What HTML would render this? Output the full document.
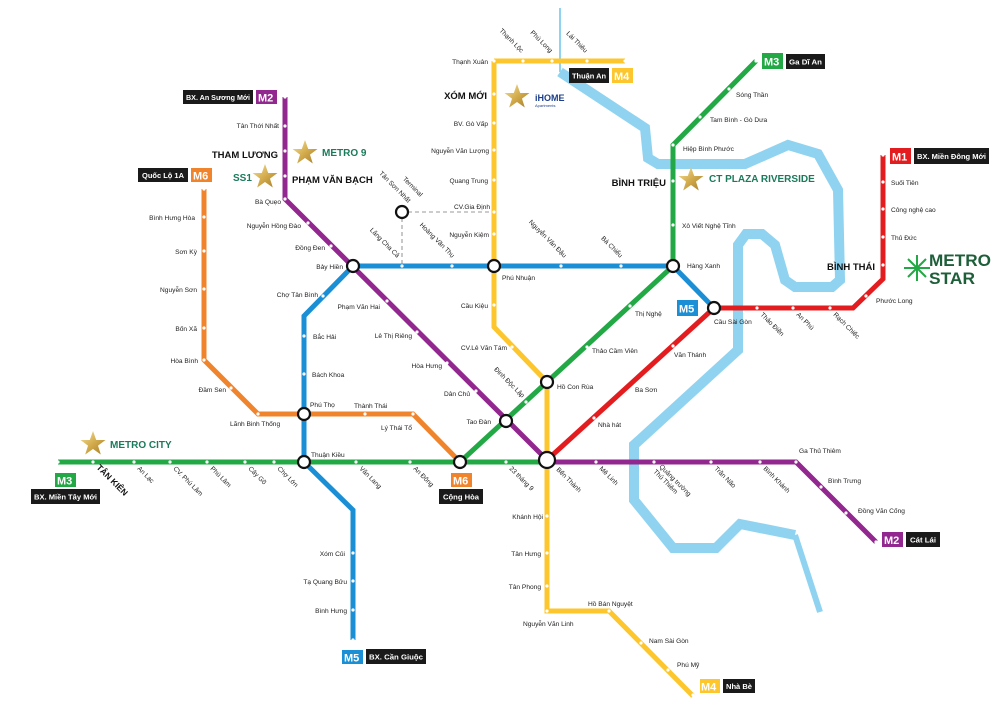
<!DOCTYPE html>
<html><head><meta charset="utf-8"><style>
html,body{margin:0;padding:0;background:#fff;}
svg{display:block;}
text{font-family:"Liberation Sans",sans-serif;}
.s{font-size:6.6px;fill:#222;}
.b{font-size:9.5px;font-weight:bold;fill:#111;}
.g{font-size:10px;font-weight:bold;fill:#1b7a5c;}
.bx{font-size:7.2px;fill:#fff;font-weight:bold;}
.mx{font-size:11px;fill:#fff;font-weight:bold;}
.dot{fill:#fff;}
.ic{fill:#fff;stroke:#111;stroke-width:2.2;}
</style></head><body>
<svg width="1000" height="722" viewBox="0 0 1000 722" xmlns="http://www.w3.org/2000/svg">
<defs>
<polygon id="star" points="0,-13 3.2,-4 12.5,-4 5,1.6 7.8,10.5 0,5 -7.8,10.5 -5,1.6 -12.5,-4 -3.2,-4" />
<linearGradient id="gold" x1="0" y1="0" x2="1" y2="1"><stop offset="0" stop-color="#f5e3a0"/><stop offset="0.5" stop-color="#d4ad4e"/><stop offset="1" stop-color="#a67d26"/></linearGradient>
</defs>
<g fill="none" stroke="#8fd3f1" stroke-linejoin="miter">
<line x1="560" y1="8" x2="560" y2="72" stroke-width="2"/>
<polyline stroke-width="10" points="560,72 645,128 648,158 658,164 745,164 788,145 818,154 838,190 840,280 832,287 795,287 785,280 775,245 762,234 746,234 738,245 738,350 634,445 634,500 673,548 716,548 740,524 795,535"/>
<polyline stroke-width="6" points="795,535 820,612"/>
</g>
<g stroke="#bbb" stroke-width="1.6" stroke-dasharray="4,3" fill="none">
<line x1="408" y1="212" x2="494" y2="212"/><line x1="402" y1="218" x2="402" y2="266"/>
</g>
<g fill="none" stroke-width="5" stroke-linejoin="miter">
<polyline stroke="#f0842c" points="204,189 204,360 258,414 413,414 460,462"/>
<polyline stroke="#fcc62c" points="494,61 625,61"/>
<polyline stroke="#fcc62c" points="494,61 494,327 547,382 547,611 609,611 693,696"/>
<polyline stroke="#1a8fd6" points="353,266 673,266 714,308"/>
<polyline stroke="#1a8fd6" points="353,266 304,316 304,462 353,510 353,640"/>
<polyline stroke="#22a844" points="58,462 547,462"/>
<polyline stroke="#22a844" points="460,462 673,266 673,145 756,61"/>
<polyline stroke="#92278f" points="285,97 285,199 547,460"/>
<polyline stroke="#92278f" points="547,462 796,462 876,542"/>
<polyline stroke="#e31d1f" points="547,460 714,308 853,308 883,279 883,155"/>
</g>
<g class="dot">
<circle cx="204" cy="189" r="1.6"/><circle cx="204" cy="217" r="1.6"/><circle cx="204" cy="251" r="1.6"/><circle cx="204" cy="289" r="1.6"/><circle cx="204" cy="328" r="1.6"/><circle cx="204" cy="360" r="1.6"/><circle cx="231" cy="388" r="1.6"/><circle cx="258" cy="414" r="1.6"/><circle cx="365" cy="414" r="1.6"/><circle cx="413" cy="414" r="1.6"/>
<circle cx="523" cy="61" r="1.6"/><circle cx="552" cy="61" r="1.6"/><circle cx="587" cy="61" r="1.6"/><circle cx="625" cy="61" r="1.6"/>
<circle cx="494" cy="61" r="1.6"/><circle cx="494" cy="94" r="1.6"/><circle cx="494" cy="123" r="1.6"/><circle cx="494" cy="150" r="1.6"/><circle cx="494" cy="180" r="1.6"/><circle cx="494" cy="212" r="1.6"/><circle cx="494" cy="234" r="1.6"/><circle cx="494" cy="305" r="1.6"/><circle cx="512" cy="347" r="1.6"/>
<circle cx="547" cy="516" r="1.6"/><circle cx="547" cy="553" r="1.6"/><circle cx="547" cy="586" r="1.6"/><circle cx="547" cy="611" r="1.6"/><circle cx="609" cy="611" r="1.6"/><circle cx="641" cy="643" r="1.6"/><circle cx="668" cy="670" r="1.6"/><circle cx="693" cy="695" r="1.6"/>
<circle cx="402" cy="266" r="1.6"/><circle cx="452" cy="266" r="1.6"/><circle cx="561" cy="266" r="1.6"/><circle cx="621" cy="266" r="1.6"/><circle cx="323" cy="296" r="1.6"/><circle cx="304" cy="336" r="1.6"/><circle cx="304" cy="374" r="1.6"/><circle cx="353" cy="553" r="1.6"/><circle cx="353" cy="581" r="1.6"/><circle cx="353" cy="610" r="1.6"/><circle cx="353" cy="640" r="1.6"/>
<circle cx="58" cy="462" r="1.6"/><circle cx="93" cy="462" r="1.6"/><circle cx="134" cy="462" r="1.6"/><circle cx="170" cy="462" r="1.6"/><circle cx="207" cy="462" r="1.6"/><circle cx="245" cy="462" r="1.6"/><circle cx="274" cy="462" r="1.6"/><circle cx="356" cy="462" r="1.6"/><circle cx="410" cy="462" r="1.6"/><circle cx="506" cy="462" r="1.6"/>
<circle cx="526" cy="402" r="1.6"/><circle cx="587" cy="347" r="1.6"/><circle cx="630" cy="306" r="1.6"/><circle cx="673" cy="225" r="1.6"/><circle cx="673" cy="181" r="1.6"/><circle cx="673" cy="145" r="1.6"/><circle cx="700" cy="117" r="1.6"/><circle cx="729" cy="89" r="1.6"/><circle cx="756" cy="61" r="1.6"/>
<circle cx="285" cy="97" r="1.6"/><circle cx="285" cy="126" r="1.6"/><circle cx="285" cy="151" r="1.6"/><circle cx="285" cy="176" r="1.6"/><circle cx="285" cy="199" r="1.6"/><circle cx="308" cy="223" r="1.6"/><circle cx="331" cy="246" r="1.6"/><circle cx="387" cy="301" r="1.6"/><circle cx="417" cy="332" r="1.6"/><circle cx="447" cy="363" r="1.6"/><circle cx="476" cy="391" r="1.6"/>
<circle cx="596" cy="462" r="1.6"/><circle cx="654" cy="462" r="1.6"/><circle cx="711" cy="462" r="1.6"/><circle cx="760" cy="462" r="1.6"/><circle cx="796" cy="462" r="1.6"/><circle cx="821" cy="487" r="1.6"/><circle cx="846" cy="513" r="1.6"/><circle cx="876" cy="542" r="1.6"/>
<circle cx="594" cy="418" r="1.6"/><circle cx="632" cy="389" r="1.6"/><circle cx="673" cy="346" r="1.6"/><circle cx="757" cy="308" r="1.6"/><circle cx="793" cy="308" r="1.6"/><circle cx="830" cy="308" r="1.6"/><circle cx="866" cy="296" r="1.6"/><circle cx="883" cy="265" r="1.6"/><circle cx="883" cy="237" r="1.6"/><circle cx="883" cy="209" r="1.6"/><circle cx="883" cy="182" r="1.6"/><circle cx="883" cy="155" r="1.6"/>
</g>
<g class="ic">
<circle cx="353" cy="266" r="6"/><circle cx="494" cy="266" r="6"/><circle cx="673" cy="266" r="6"/><circle cx="714" cy="308" r="6"/><circle cx="547" cy="382" r="6"/><circle cx="506" cy="421" r="6"/><circle cx="460" cy="462" r="6"/><circle cx="304" cy="414" r="6"/><circle cx="304" cy="462" r="6"/><circle cx="402" cy="212" r="6"/><circle cx="547" cy="460" r="8"/>
</g>
<g fill="url(#gold)">
<use href="#star" x="305" y="153"/><use href="#star" x="265" y="177"/><use href="#star" x="517" y="97"/><use href="#star" x="691" y="180"/><use href="#star" x="93" y="444"/>
</g>
<g>
<rect x="183" y="90" width="70" height="14" fill="#1a1a1a"/><text class="bx" x="186" y="100" textLength="64" lengthAdjust="spacingAndGlyphs">BX. An Sương Mới</text>
<rect x="256" y="90" width="21" height="14" fill="#92278f"/><text class="mx" x="258" y="101.5">M2</text>
<rect x="138" y="168" width="50" height="14" fill="#1a1a1a"/><text class="bx" x="142" y="178" textLength="42" lengthAdjust="spacingAndGlyphs">Quốc Lộ 1A</text>
<rect x="191" y="168" width="21" height="14" fill="#f0842c"/><text class="mx" x="193" y="179.5">M6</text>
<rect x="55" y="473" width="21" height="14" fill="#22a844"/><text class="mx" x="57" y="484.5">M3</text>
<rect x="31" y="489" width="69" height="15" fill="#1a1a1a"/><text class="bx" x="34" y="499.5" textLength="63" lengthAdjust="spacingAndGlyphs">BX. Miền Tây Mới</text>
<rect x="451" y="473" width="21" height="14" fill="#f0842c"/><text class="mx" x="453" y="484.5">M6</text>
<rect x="439" y="489" width="44" height="15" fill="#1a1a1a"/><text class="bx" x="443" y="499.5" textLength="36" lengthAdjust="spacingAndGlyphs">Cộng Hòa</text>
<rect x="342" y="650" width="21" height="14" fill="#1a8fd6"/><text class="mx" x="344" y="661.5">M5</text>
<rect x="366" y="649" width="60" height="15" fill="#1a1a1a"/><text class="bx" x="369" y="659.5" textLength="54" lengthAdjust="spacingAndGlyphs">BX. Cần Giuộc</text>
<rect x="700" y="679" width="20" height="14" fill="#fcc62c"/><text class="mx" x="701" y="690.5">M4</text>
<rect x="723" y="679" width="32" height="14" fill="#1a1a1a"/><text class="bx" x="726" y="689" textLength="26" lengthAdjust="spacingAndGlyphs">Nhà Bè</text>
<rect x="882" y="532" width="21" height="15" fill="#92278f"/><text class="mx" x="884" y="544">M2</text>
<rect x="906" y="532" width="34" height="15" fill="#1a1a1a"/><text class="bx" x="910" y="542.5" textLength="26" lengthAdjust="spacingAndGlyphs">Cát Lái</text>
<rect x="890" y="148" width="21" height="16" fill="#e31d1f"/><text class="mx" x="892" y="160.5">M1</text>
<rect x="914" y="148" width="75" height="16" fill="#1a1a1a"/><text class="bx" x="917" y="159" textLength="69" lengthAdjust="spacingAndGlyphs">BX. Miền Đông Mới</text>
<rect x="762" y="53" width="21" height="16" fill="#22a844"/><text class="mx" x="764" y="65.5">M3</text>
<rect x="786" y="54" width="39" height="15" fill="#1a1a1a"/><text class="bx" x="789" y="64.5" textLength="33" lengthAdjust="spacingAndGlyphs">Ga Dĩ An</text>
<rect x="569" y="68" width="40" height="15" fill="#1a1a1a"/><text class="bx" x="572" y="78.5" textLength="34" lengthAdjust="spacingAndGlyphs">Thuận An</text>
<rect x="612" y="68" width="21" height="15" fill="#fcc62c"/><text class="mx" x="614" y="80">M4</text>
<rect x="677" y="300" width="21" height="16" fill="#1a8fd6"/><text class="mx" x="679" y="312.5">M5</text>
</g>
<text class="b" x="278" y="158" text-anchor="end">THAM LƯƠNG</text>
<text class="b" x="292" y="183">PHẠM VĂN BẠCH</text>
<text class="b" x="487" y="99" text-anchor="end">XÓM MỚI</text>
<text class="b" x="666" y="186" text-anchor="end">BÌNH TRIỆU</text>
<text class="b" x="875" y="270" text-anchor="end">BÌNH THÁI</text>
<text class="g" x="322" y="156">METRO 9</text>
<text class="g" x="233" y="181">SS1</text>
<text class="g" x="709" y="182">CT PLAZA RIVERSIDE</text>
<text class="g" x="110" y="448">METRO CITY</text>
<text x="535" y="101" style="font-size:9px;font-weight:bold;fill:#1d3f8a">iHOME</text>
<text x="535" y="107" style="font-size:4px;fill:#1d3f8a">Apartments</text>
<g stroke="#22a844" stroke-width="2" transform="translate(917,268)">
<line x1="0" y1="-13" x2="0" y2="13"/><line x1="-13" y1="0" x2="13" y2="0"/><line x1="-9" y1="-9" x2="9" y2="9"/><line x1="-9" y1="9" x2="9" y2="-9"/>
</g>
<text x="929" y="266" textLength="62" lengthAdjust="spacingAndGlyphs" style="font-size:17px;font-weight:bold;fill:#1e5f3a">METRO</text>
<text x="929" y="284" textLength="46" lengthAdjust="spacingAndGlyphs" style="font-size:17px;font-weight:bold;fill:#1e5f3a">STAR</text>
<g class="s">
<text x="279" y="128" text-anchor="end">Tân Thới Nhất</text>
<text x="281" y="204" text-anchor="end">Bà Quẹo</text>
<text x="301" y="228" text-anchor="end">Nguyễn Hồng Đào</text>
<text x="325" y="250" text-anchor="end">Đồng Đen</text>
<text x="343" y="269" text-anchor="end">Bảy Hiền</text>
<text x="318" y="297" text-anchor="end">Chợ Tân Bình</text>
<text x="380" y="309" text-anchor="end">Phạm Văn Hai</text>
<text x="412" y="338" text-anchor="end">Lê Thị Riêng</text>
<text x="442" y="368" text-anchor="end">Hòa Hưng</text>
<text x="470" y="396" text-anchor="end">Dân Chủ</text>
<text x="491" y="424" text-anchor="end">Tao Đàn</text>
<text x="313" y="339">Bắc Hải</text>
<text x="312" y="377">Bách Khoa</text>
<text x="310" y="407">Phú Thọ</text>
<text x="354" y="408">Thành Thái</text>
<text x="381" y="430">Lý Thái Tổ</text>
<text x="230" y="426">Lãnh Binh Thống</text>
<text x="226" y="392" text-anchor="end">Đầm Sen</text>
<text x="198" y="363" text-anchor="end">Hòa Bình</text>
<text x="197" y="331" text-anchor="end">Bốn Xã</text>
<text x="197" y="292" text-anchor="end">Nguyễn Sơn</text>
<text x="197" y="254" text-anchor="end">Sơn Kỳ</text>
<text x="195" y="220" text-anchor="end">Bình Hưng Hòa</text>
<text x="311" y="457">Thuận Kiều</text>
<text x="345" y="556" text-anchor="end">Xóm Củi</text>
<text x="347" y="584" text-anchor="end">Tạ Quang Bửu</text>
<text x="347" y="613" text-anchor="end">Bình Hưng</text>
<text x="488" y="64" text-anchor="end">Thạnh Xuân</text>
<text x="488" y="126" text-anchor="end">BV. Gò Vấp</text>
<text x="489" y="153" text-anchor="end">Nguyễn Văn Lượng</text>
<text x="488" y="183" text-anchor="end">Quang Trung</text>
<text x="490" y="209" text-anchor="end">CV.Gia Định</text>
<text x="489" y="237" text-anchor="end">Nguyễn Kiệm</text>
<text x="502" y="280">Phú Nhuận</text>
<text x="488" y="308" text-anchor="end">Cầu Kiệu</text>
<text x="507" y="350" text-anchor="end">CV.Lê Văn Tám</text>
<text x="557" y="389">Hồ Con Rùa</text>
<text x="543" y="519" text-anchor="end">Khánh Hội</text>
<text x="541" y="556" text-anchor="end">Tân Hưng</text>
<text x="541" y="589" text-anchor="end">Tân Phong</text>
<text x="523" y="626">Nguyễn Văn Linh</text>
<text x="588" y="606">Hồ Bán Nguyệt</text>
<text x="649" y="643">Nam Sài Gòn</text>
<text x="677" y="667">Phú Mỹ</text>
<text x="592" y="353">Thảo Cầm Viên</text>
<text x="635" y="316">Thị Nghệ</text>
<text x="682" y="228">Xô Viết Nghệ Tĩnh</text>
<text x="683" y="151">Hiệp Bình Phước</text>
<text x="710" y="122">Tam Bình - Gò Dưa</text>
<text x="736" y="97">Sóng Thần</text>
<text x="687" y="268">Hàng Xanh</text>
<text x="598" y="427">Nhà hát</text>
<text x="635" y="392">Ba Sơn</text>
<text x="674" y="357">Văn Thánh</text>
<text x="714" y="324">Cầu Sài Gòn</text>
<text x="876" y="303">Phước Long</text>
<text x="891" y="240">Thủ Đức</text>
<text x="891" y="212">Công nghệ cao</text>
<text x="891" y="185">Suối Tiên</text>
<text x="799" y="453">Ga Thủ Thiêm</text>
<text x="828" y="483">Bình Trưng</text>
<text x="858" y="513">Đồng Văn Cống</text>
</g>
<g class="s" text-anchor="end">
<text transform="translate(521,53) rotate(45)">Thạnh Lộc</text>
<text transform="translate(550,53) rotate(45)">Phú Long</text>
<text transform="translate(585,53) rotate(45)">Lái Thiêu</text>
<text transform="translate(408,203) rotate(45)">Tân Sơn Nhất</text>
<text transform="translate(420,197) rotate(45)">Terminal</text>
<text transform="translate(397,258) rotate(45)">Lăng Cha Cả</text>
<text transform="translate(452,258) rotate(45)">Hoàng Văn Thụ</text>
<text transform="translate(564,258) rotate(45)">Nguyễn Văn Đậu</text>
<text transform="translate(620,258) rotate(45)">Bà Chiểu</text>
<text transform="translate(522,398) rotate(45)">Đinh Độc Lập</text>
</g>
<g class="s">
<text transform="translate(137,469) rotate(45)">An Lạc</text>
<text transform="translate(173,469) rotate(45)">CV. Phú Lâm</text>
<text transform="translate(210,469) rotate(45)">Phú Lâm</text>
<text transform="translate(248,469) rotate(45)">Cây Gõ</text>
<text transform="translate(277,469) rotate(45)">Chợ Lớn</text>
<text transform="translate(359,469) rotate(45)">Văn Lang</text>
<text transform="translate(413,469) rotate(45)">An Đông</text>
<text transform="translate(509,469) rotate(45)">23 tháng 9</text>
<text transform="translate(556,470) rotate(45)">Bến Thành</text>
<text transform="translate(599,469) rotate(45)">Mê Linh</text>
<text transform="translate(659,467) rotate(45)">Quảng trường</text>
<text transform="translate(653,472) rotate(45)">Thủ Thiêm</text>
<text transform="translate(714,469) rotate(45)">Trần Não</text>
<text transform="translate(763,469) rotate(45)">Bình Khánh</text>
<text transform="translate(760,315) rotate(45)">Thảo Điền</text>
<text transform="translate(796,315) rotate(45)">An Phú</text>
<text transform="translate(833,315) rotate(45)">Rạch Chiếc</text>
</g>
<text transform="translate(96,468) rotate(45)" style="font-size:8.5px;font-weight:bold;fill:#111">TÂN KIÊN</text>
</svg>
</body></html>
